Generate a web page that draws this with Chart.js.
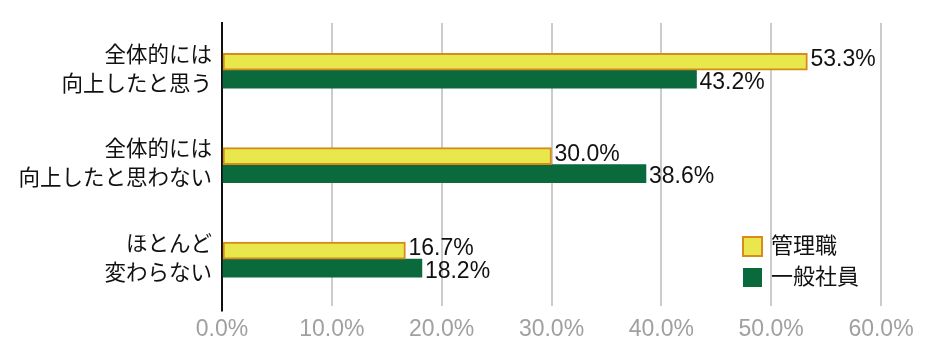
<!DOCTYPE html>
<html>
<head>
<meta charset="utf-8">
<script src="https://cdn.jsdelivr.net/npm/chart.js@4/dist/chart.umd.min.js"></script>
<style>
  html, body { margin: 0; padding: 0; background: #fff; }
  #wrap { width: 940px; height: 362px; }
</style>
</head>
<body>
<div id="wrap"><canvas id="myChart"></canvas></div>
<script>
let categories = [['全体的には', '向上したと思う'], ['全体的には', '向上したと思わない'], ['ほとんど', '変わらない']];
let kanri = [53.3, 30.0, 16.7];
let ippan = [43.2, 38.6, 18.2];
let seriesNames = ['管理職', '一般社員'];

const jpFont = '"Liberation Sans", "Noto Sans CJK JP", sans-serif';

// value labels at the end of each bar
let valueLabels = {
  id: 'valueLabels',
  afterDatasetsDraw(chart) {
    let c = chart.ctx;
    c.save();
    c.font = '23px ' + jpFont;
    c.fillStyle = '#111';
    c.textAlign = 'left';
    c.textBaseline = 'middle';
    chart.data.datasets.forEach((ds, i) => {
      chart.getDatasetMeta(i).data.forEach((bar, j) => {
        let dy = i === 1 ? 3 : -2;
        c.fillText(ds.data[j].toFixed(1) + '%', bar.x + 3, bar.y + dy);
      });
    });
    c.restore();
  }
};

// legend in the lower right of the plot
let boxLegend = {
  id: 'boxLegend',
  afterDraw(chart) {
    let c = chart.ctx;
    c.save();
    c.font = '22px ' + jpFont;
    c.textBaseline = 'middle';
    chart.data.datasets.forEach((ds, i) => {
      let y = 237 + i * 31;
      c.fillStyle = ds.backgroundColor;
      c.fillRect(743, y, 19, 19);
      if (ds.borderWidth) {
        c.strokeStyle = ds.borderColor;
        c.lineWidth = 2;
        c.strokeRect(743, y, 19, 19);
      }
      c.fillStyle = '#111';
      c.fillText(ds.label, 771, y + 10);
    });
    c.restore();
  }
};

let ctx = document.getElementById('myChart').getContext('2d');

let myChart = new Chart(ctx, {
  type: 'bar',
  data: {
    labels: categories,
    datasets: [
      {
        label: seriesNames[0],
        data: kanri,
        backgroundColor: '#e8e84c',
        borderColor: '#d98a1c',
        borderWidth: 2,
        borderSkipped: false,
        barThickness: 17
      },
      {
        label: seriesNames[1],
        data: ippan,
        backgroundColor: '#0b6a3c',
        borderWidth: 0,
        barThickness: 18
      }
    ]
  },
  options: {
    indexAxis: 'y',
    responsive: true,
    maintainAspectRatio: false,
    animation: false,
    layout: { padding: { top: 23, right: 59, left: 0, bottom: 15 } },
    plugins: {
      legend: { display: false },
      tooltip: { enabled: false }
    },
    scales: {
      x: {
        min: 0,
        max: 60,
        ticks: {
          stepSize: 10,
          color: '#a0a0a0',
          font: { family: jpFont, size: 23 },
          padding: 4,
          callback: v => v.toFixed(1) + '%'
        },
        grid: {
          color: c => c.index === 0 ? '#111' : '#cccccc',
          tickColor: c => c.index === 0 ? '#111' : 'rgba(0,0,0,0)',
          lineWidth: 2,
          tickLength: 5
        },
        border: { display: false }
      },
      y: {
        ticks: {
          color: '#111',
          font: { family: jpFont, size: 21.5, lineHeight: 1.35 },
          padding: 10
        },
        grid: { display: false, drawTicks: false },
        border: { display: true, color: '#111', width: 2 },
        afterFit: s => {
          s.width = 222;
          s.paddingTop = 0;
          s.paddingBottom = 0;
        }
      }
    }
  },
  plugins: [valueLabels, boxLegend]
});
</script>
</body>
</html>
